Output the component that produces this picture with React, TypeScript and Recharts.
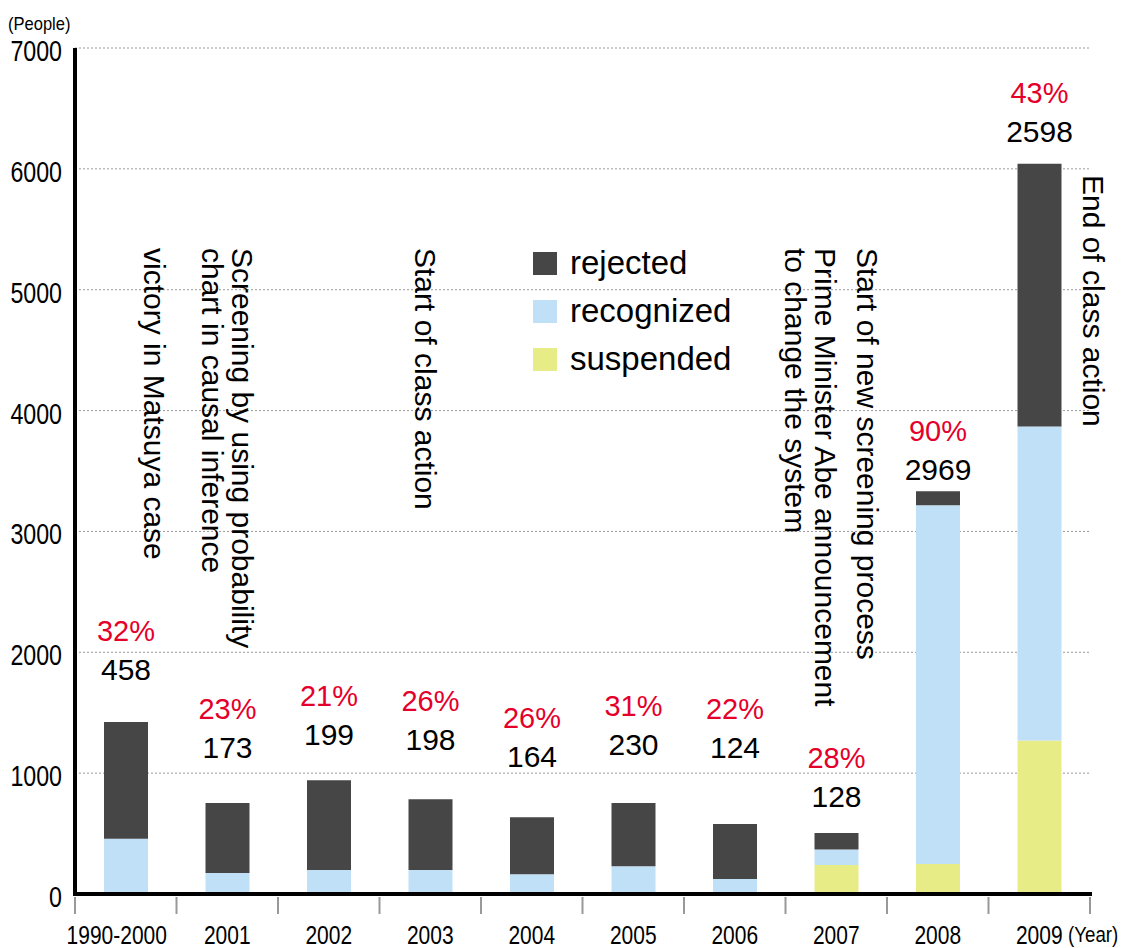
import React from "react";
import { BarChart, Bar, XAxis, YAxis, CartesianGrid, LabelList, ReferenceLine } from "recharts";

const YEARS = ["1990-2000", "2001", "2002", "2003", "2004", "2005", "2006", "2007", "2008", "2009"];
const SUSPENDED = [0, 0, 0, 0, 0, 0, 0, 240, 248, 1270];
const RECOGNIZED = [458, 173, 199, 198, 164, 230, 124, 128, 2969, 2598];
const REJECTED = [965, 580, 743, 587, 472, 522, 455, 136, 115, 2175];
const RATE = [32, 23, 21, 26, 26, 31, 22, 28, 90, 43];
const Y_TICKS = [0, 1000, 2000, 3000, 4000, 5000, 6000, 7000];

// how far above each bar the count label sits (px)
const LABEL_LIFT = [52, 55, 45, 59, 60, 58, 76, 36, 21, 32];

const ANNOTATIONS = [
  { year: "1990-2000", lines: ["victory in Matsuya case"], dx: 29, top: 248 },
  { year: "2001", lines: ["Screening by using probability", "chart in causal inference"], dx: 15, top: 248 },
  { year: "2003", lines: ["Start of class action"], dx: -5, top: 248 },
  { year: "2007", lines: ["Start of new screening process"], dx: 31, top: 248 },
  { year: "2007", lines: ["Prime Minister Abe announcement", "to change the system"], dx: -11, top: 248 },
  { year: "2009", lines: ["End of class action"], dx: 54, top: 175 },
];

const FONT = "'Liberation Sans', Arial, Helvetica, sans-serif";
const COLORS = { rejected: "#464646", recognized: "#bfe0f7", suspended: "#e8ec86" };
const RED = "#e4002b";

const W = 1128;
const H = 948;
const LEFT = 75;
const RIGHT = 38;
const BAND = (W - LEFT - RIGHT) / YEARS.length;

const data = YEARS.map((year, i) => ({
  year,
  suspended: SUSPENDED[i],
  recognized: RECOGNIZED[i],
  rejected: REJECTED[i],
}));

function XTick(props: any) {
  const { x, y, index } = props;
  const lineTop = y - 5;
  // the long first label sits a bit left of its bar
  const tx = index === 0 ? x - 9 : x;
  return (
    <g>
      <line x1={x - BAND / 2} x2={x - BAND / 2} y1={lineTop} y2={lineTop + 17} stroke="#999" strokeWidth={2} />
      {index === YEARS.length - 1 && (
        <line x1={x + BAND / 2} x2={x + BAND / 2} y1={lineTop} y2={lineTop + 17} stroke="#999" strokeWidth={2} />
      )}
      <text
        transform={`translate(${tx},${y + 42}) scale(0.84,1)`}
        textAnchor="middle"
        fontSize={25}
        fontFamily={FONT}
        fill="#000"
      >
        {props.payload.value}
      </text>
    </g>
  );
}

function YTick(props: any) {
  const { x, y, payload } = props;
  return (
    <text
      transform={`translate(${x},${y + 13}) scale(0.8,1)`}
      textAnchor="end"
      fontSize={29}
      fontFamily={FONT}
      fill="#000"
    >
      {payload.value}
    </text>
  );
}

function TopLabel(props: any) {
  const { x, y, width, index } = props;
  const cx = x + width / 2;
  const mid = y - LABEL_LIFT[index];
  return (
    <g fontFamily={FONT} textAnchor="middle">
      <text x={cx} y={mid - 39 + 10} fill={RED} fontSize={29}>{RATE[index]}%</text>
      <text x={cx} y={mid + 10} fill="#000" fontSize={30}>{RECOGNIZED[index]}</text>
    </g>
  );
}

function Annotation(props: any) {
  const { viewBox, lines, dx, top } = props;
  if (!viewBox) return null;
  return (
    <g fontFamily={FONT} fontSize={30} fill="#000">
      {lines.map((t: string, i: number) => {
        const lx = viewBox.x + dx - i * 30;
        return (
          <text key={i} x={lx} y={top} dominantBaseline="central" transform={`rotate(90 ${lx} ${top})`}>
            {t}
          </text>
        );
      })}
    </g>
  );
}

const LEGEND = [
  { key: "rejected", label: "rejected" },
  { key: "recognized", label: "recognized" },
  { key: "suspended", label: "suspended" },
];

export default function App() {
  return (
    <div style={{ position: "absolute", left: 0, top: 0, width: W, height: H, background: "#fff", fontFamily: FONT }}>
      <BarChart width={W} height={H} data={data} margin={{ top: 48, right: RIGHT, left: 0, bottom: 0 }}>
        <CartesianGrid vertical={false} stroke="#999" strokeDasharray="2 2" />
        <XAxis
          dataKey="year"
          height={54}
          interval={0}
          tickLine={false}
          axisLine={{ stroke: "#000", strokeWidth: 4, strokeLinecap: "square" }}
          tick={<XTick />}
        />
        <YAxis
          width={LEFT}
          domain={[0, 7000]}
          ticks={Y_TICKS}
          tickLine={false}
          tickMargin={7}
          axisLine={{ stroke: "#000", strokeWidth: 4 }}
          tick={<YTick />}
        />
        <Bar dataKey="suspended" stackId="a" fill={COLORS.suspended} barSize={44} isAnimationActive={false} />
        <Bar dataKey="recognized" stackId="a" fill={COLORS.recognized} barSize={44} isAnimationActive={false} />
        <Bar dataKey="rejected" stackId="a" fill={COLORS.rejected} barSize={44} isAnimationActive={false}>
          <LabelList dataKey="rejected" content={<TopLabel />} />
        </Bar>
        {ANNOTATIONS.map((a, i) => (
          <ReferenceLine
            key={i}
            x={a.year}
            stroke="none"
            label={<Annotation lines={a.lines} dx={a.dx} top={a.top} />}
          />
        ))}
      </BarChart>

      <div style={{ position: "absolute", left: 8, top: 12, fontSize: 19, transform: "scaleX(0.87)", transformOrigin: "left center", lineHeight: "24px" }}>
        (People)
      </div>
      <div style={{ position: "absolute", left: 1068, top: 921, fontSize: 22, transform: "scaleX(0.85)", transformOrigin: "left center", lineHeight: "28px" }}>
        (Year)
      </div>

      <div style={{ position: "absolute", left: 533, top: 239 }}>
        {LEGEND.map((l) => (
          <div key={l.key} style={{ display: "flex", alignItems: "center", height: 48 }}>
            <span style={{ width: 24, height: 23, background: (COLORS as any)[l.key], display: "inline-block" }} />
            <span style={{ marginLeft: 13, fontSize: 33, color: "#000" }}>{l.label}</span>
          </div>
        ))}
      </div>
    </div>
  );
}
